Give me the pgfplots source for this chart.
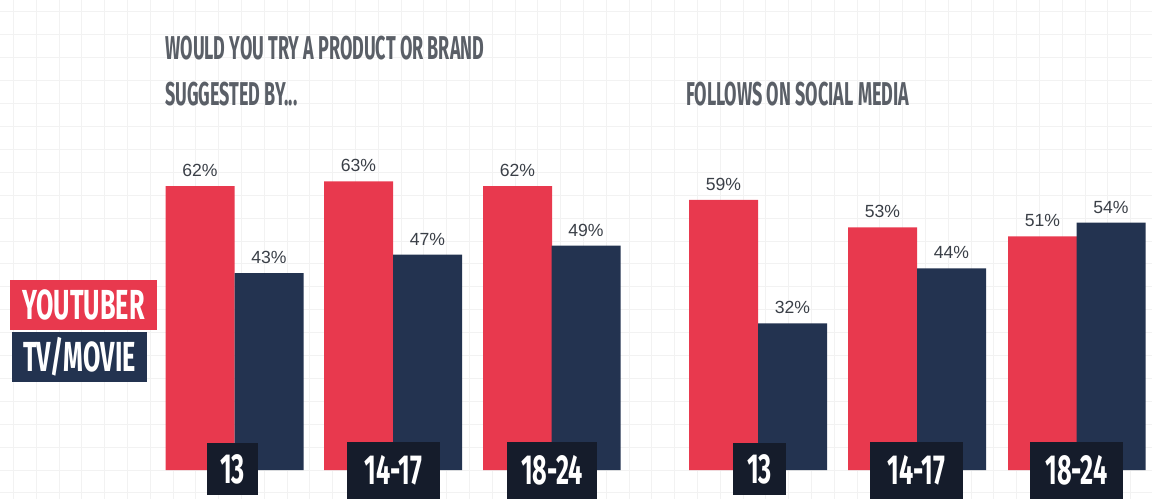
\documentclass[border=0pt]{standalone}
\usepackage{pgfplots}
\pgfplotsset{compat=1.18}
\usepackage{fontspec}
\setmainfont{Liberation Sans}
\newfontfamily\cond[FakeStretch=0.6]{Fira Sans}
\newfontfamily\condt[FakeStretch=0.545]{Fira Sans}
\definecolor{ytred}{HTML}{E8394E}
\definecolor{tvnavy}{HTML}{233350}
\definecolor{boxdark}{HTML}{151C2B}
\definecolor{titlegray}{HTML}{5A5F67}
\definecolor{labgray}{HTML}{3A3F47}
\begin{document}
\begin{tikzpicture}
\begin{axis}[name=ax, scale only axis, width=576pt, height=249.5pt,
  xmin=0, xmax=1152, ymin=-6.332, ymax=102.62,
  /pgf/number format/assume math mode=true,
  axis line style={draw=none}, major tick length=0pt,
  xtick={13.5,36.3,...,1152}, ytick={-5,0,...,100},
  xticklabels={}, yticklabels={},
  grid=major, major grid style={black!5, line width=0.5pt},
  clip=false]
\addplot[ybar, bar width=69, bar shift=0pt, fill=ytred, draw=none,
  nodes near coords={\pgfmathprintnumber{\pgfplotspointmeta}\%},
  every node near coord/.append style={font=\fontsize{8.8}{9}\selectfont, text=labgray, anchor=south, inner sep=0pt, yshift=4.5pt}]
  coordinates {(200,62) (358.5,63) (517.5,62) (723.5,59) (882.5,53) (1042.5,51)};
\addplot[ybar, bar width=69, bar shift=0pt, fill=tvnavy, draw=none,
  nodes near coords={\pgfmathprintnumber{\pgfplotspointmeta}\%},
  every node near coord/.append style={font=\fontsize{8.8}{9}\selectfont, text=labgray, anchor=south, inner sep=0pt, yshift=4.5pt}]
  coordinates {(269,43) (427.5,47) (586,49) (792.5,32) (951.5,44) (1111,54)};
% titles
\node[anchor=base west, inner sep=0pt, text=titlegray, font=\condt\bfseries\fontsize{16.5}{16.5}\selectfont] at (axis cs:165,89.52) {WOULD YOU TRY A PRODUCT OR BRAND};
\node[anchor=base west, inner sep=0pt, text=titlegray, font=\condt\bfseries\fontsize{16.5}{16.5}\selectfont] at (axis cs:165,79.69) {SUGGESTED BY...};
\node[anchor=base west, inner sep=0pt, text=titlegray, font=\condt\bfseries\fontsize{16.5}{16.5}\selectfont] at (axis cs:686,79.69) {FOLLOWS ON SOCIAL MEDIA};
% legend
\node[fill=ytred, text=white, minimum width=73.5pt, minimum height=25pt, inner sep=0pt, font=\cond\bfseries\fontsize{21}{21}\selectfont] at (axis cs:83.5,36.03) {YOUTUBER};
\node[fill=tvnavy, text=white, minimum width=67.5pt, minimum height=25pt, inner sep=0pt, font=\cond\bfseries\fontsize{21}{21}\selectfont] at (axis cs:79.5,24.67) {TV/MOVIE};
% category boxes
\node[fill=boxdark, text=white, minimum width=25.5pt, minimum height=26pt, inner sep=0pt, font=\cond\bfseries\fontsize{21}{21}\selectfont] at (axis cs:232.5,0.22) {13};
\node[fill=boxdark, text=white, minimum width=46.5pt, minimum height=28.5pt, inner sep=0pt, font=\cond\bfseries\fontsize{21}{21}\selectfont] at (axis cs:393.5,-0.11) {14-17};
\node[fill=boxdark, text=white, minimum width=45pt, minimum height=28.5pt, inner sep=0pt, font=\cond\bfseries\fontsize{21}{21}\selectfont] at (axis cs:552,-0.11) {18-24};
\node[fill=boxdark, text=white, minimum width=26.5pt, minimum height=26pt, inner sep=0pt, font=\cond\bfseries\fontsize{21}{21}\selectfont] at (axis cs:759.5,0.22) {13};
\node[fill=boxdark, text=white, minimum width=46.5pt, minimum height=28.5pt, inner sep=0pt, font=\cond\bfseries\fontsize{21}{21}\selectfont] at (axis cs:916.5,-0.11) {14-17};
\node[fill=boxdark, text=white, minimum width=46.5pt, minimum height=28.5pt, inner sep=0pt, font=\cond\bfseries\fontsize{21}{21}\selectfont] at (axis cs:1076.5,-0.11) {18-24};
\end{axis}
\pgfresetboundingbox
\useasboundingbox (ax.south west) rectangle (ax.north east);
\end{tikzpicture}
\end{document}
